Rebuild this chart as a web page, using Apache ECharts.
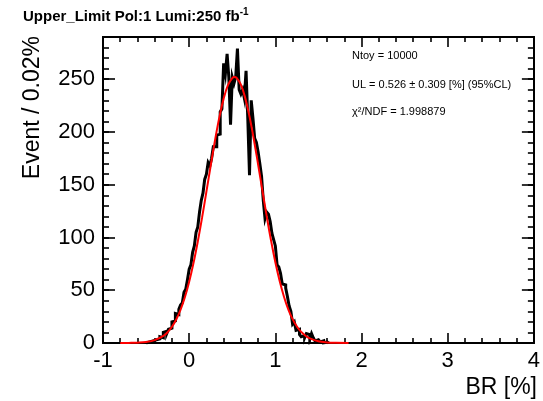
<!DOCTYPE html>
<html>
<head>
<meta charset="utf-8">
<script src="https://cdn.jsdelivr.net/npm/echarts@6/dist/echarts.min.js"></script>
<style>
  html, body { margin: 0; padding: 0; background: #fff; }
  #chart { width: 543px; height: 401px; }
</style>
</head>
<body>
<div id="chart"></div>
<script>
// histogram: 0.02 wide bins, first bin left edge at -0.50
var binStart = -0.5;
var binWidth = 0.02;
var counts = [
  0, 1, 0, 2, 1, 3, 2, 4, 6, 5,
  10, 11, 9, 13, 14, 20, 21, 28, 27, 32,
  36, 38, 48, 51, 60, 70, 74, 86, 92, 105,
  110, 124, 135, 142, 155, 160, 171, 168, 175, 186,
  186, 197, 198, 219, 222, 265, 255, 274, 252, 207,
  252, 246, 252, 279, 240, 236, 240, 232, 258, 213,
  159, 230, 213, 194, 190, 181, 170, 158, 135, 118,
  124, 122, 115, 104, 98, 92, 74, 72, 66, 56,
  55, 52, 44, 35, 30, 18, 20, 12, 13, 8,
  6, 7, 5, 9, 8, 4, 9, 5, 2, 3,
  2, 1, 2, 0, 1, 0
];

// gaussian fit curve
var fitX = [-0.8, -0.7, -0.6, -0.5, -0.4, -0.3, -0.25, -0.2, -0.15, -0.1, -0.05,
  0, 0.05, 0.1, 0.15, 0.2, 0.25, 0.3, 0.35, 0.4, 0.45, 0.5, 0.526, 0.55, 0.6,
  0.65, 0.7, 0.75, 0.8, 0.85, 0.9, 0.95, 1.0, 1.05, 1.1, 1.15, 1.2, 1.25, 1.3,
  1.35, 1.4, 1.5, 1.6, 1.7, 1.85];
var fitY = [0.02, 0.09, 0.3, 0.95, 2.7, 6.7, 10.3, 15.4, 22.3, 31.5, 43.3,
  58.1, 75.7, 96.2, 119, 143.4, 168.2, 192.2, 213.8, 231.6, 244.4, 251.1, 252, 251.2, 244.8,
  232.3, 214.6, 193.1, 169.2, 144.4, 120, 97.1, 76.5, 58.7, 43.9, 31.9, 22.6, 15.6, 10.5,
  6.9, 4.4, 1.6, 0.55, 0.17, 0.03];

var xTicks = [-1, 4, 1];      // min, max, interval
var yTicks = [0, 290, 50];    // min, max, interval

var titleText = 'Upper_Limit Pol:1 Lumi:250 fb';
var statLines = ['Ntoy = 10000', 'UL = 0.526 \u00b1 0.309 [%] (95%CL)', '\u03c7\u00b2/NDF = 1.998879'];

var font = "'Liberation Sans', Arial, Helvetica, sans-serif";

var histPoints = [];
for (var i = 0; i < counts.length; i++) {
  histPoints.push([binStart + i * binWidth, counts[i]]);
}
histPoints.push([binStart + counts.length * binWidth, 0]);

var fitPoints = fitX.map(function (x, i) { return [x, fitY[i]]; });

function xAx(pos, labels) {
  return {
    type: 'value', position: pos,
    min: xTicks[0], max: xTicks[1], interval: xTicks[2],
    axisLine: { show: true, onZero: false, lineStyle: { color: '#000', width: 2 } },
    axisTick: { show: true, inside: true, length: 10, lineStyle: { color: '#000', width: 1.6 } },
    minorTick: { show: true, splitNumber: 5, length: 5, lineStyle: { color: '#000', width: 1.6 } },
    splitLine: { show: false },
    axisLabel: { show: labels, color: '#000', fontSize: 22, fontFamily: font, margin: 7 }
  };
}

function yAx(pos, step, len, labels) {
  return {
    type: 'value', position: pos,
    min: yTicks[0], max: yTicks[1], interval: step,
    axisLine: { show: true, onZero: false, lineStyle: { color: '#000', width: 2 } },
    axisTick: { show: true, inside: true, length: len, lineStyle: { color: '#000', width: 1.6 } },
    splitLine: { show: false },
    axisLabel: { show: labels, showMaxLabel: false, color: '#000', fontSize: 22, fontFamily: font, margin: 8 }
  };
}

var chart = echarts.init(document.getElementById('chart'));
chart.setOption({
  animation: false,
  grid: { left: 103, right: 6, top: 37, bottom: 58 },
  xAxis: [xAx('bottom', true), xAx('top', false)],
  yAxis: [
    yAx('left', yTicks[2], 12, true),
    yAx('left', 10, 6, false),
    yAx('right', yTicks[2], 12, false),
    yAx('right', 10, 6, false)
  ],
  series: [
    {
      type: 'line', xAxisIndex: 0, yAxisIndex: 0,
      step: 'end', symbol: 'none',
      data: histPoints,
      lineStyle: { color: '#000', width: 3, join: 'miter' },
      z: 3
    },
    {
      type: 'line', xAxisIndex: 0, yAxisIndex: 0,
      smooth: 0.4, symbol: 'none',
      data: fitPoints,
      lineStyle: { color: '#ff0000', width: 2 },
      z: 4
    }
  ],
  graphic: [
    {
      type: 'text', left: 23, top: 7,
      style: {
        text: '{m|' + titleText + '}{s|-1}',
        rich: {
          m: { fontSize: 15, fontWeight: 'bold', fontFamily: font, fill: '#000', lineHeight: 19 },
          s: { fontSize: 10, fontWeight: 'bold', fontFamily: font, fill: '#000', verticalAlign: 'top', lineHeight: 10 }
        }
      }
    },
    {
      type: 'text', x: 33, y: 36, rotation: Math.PI / 2,
      style: { text: 'Event / 0.02%', fontSize: 23, fontFamily: font, fill: '#000', align: 'right', verticalAlign: 'middle' }
    },
    {
      type: 'text', x: 537, y: 388,
      style: { text: 'BR [%]', fontSize: 23, fontFamily: font, fill: '#000', align: 'right', verticalAlign: 'middle' }
    },
    {
      type: 'text', x: 352, y: 56,
      style: { text: statLines[0], fontSize: 11, fontFamily: font, fill: '#000', verticalAlign: 'middle' }
    },
    {
      type: 'text', x: 352, y: 85,
      style: { text: statLines[1], fontSize: 11, fontFamily: font, fill: '#000', verticalAlign: 'middle' }
    },
    {
      type: 'text', x: 352, y: 112,
      style: { text: statLines[2], fontSize: 11, fontFamily: font, fill: '#000', verticalAlign: 'middle' }
    }
  ]
});
</script>
</body>
</html>
